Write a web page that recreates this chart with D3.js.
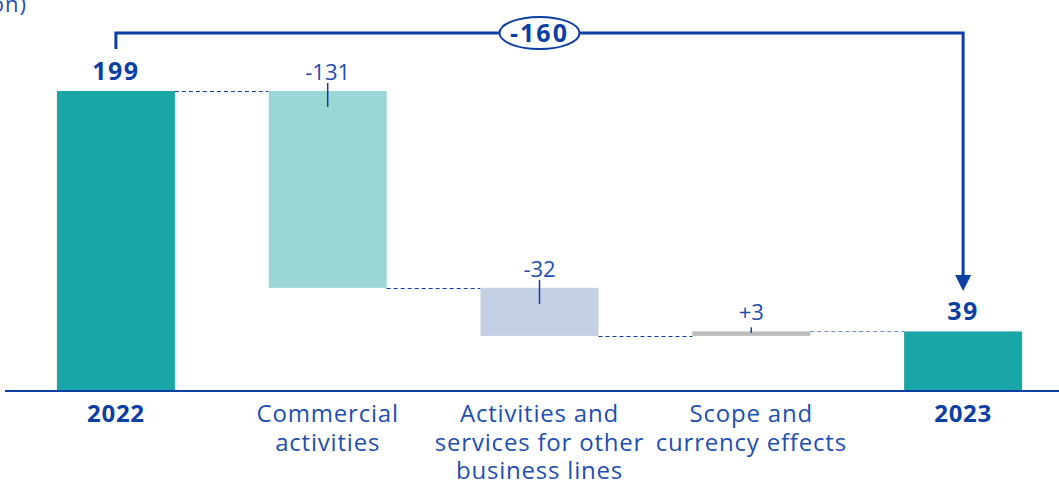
<!DOCTYPE html>
<html>
<head>
<meta charset="utf-8">
<script src="https://cdn.jsdelivr.net/npm/d3@7/dist/d3.min.js"></script>
<style>
  html, body { margin: 0; padding: 0; background: #fff; }
  svg { display: block; font-family: "Open Sans", "Noto Sans", sans-serif; }
</style>
</head>
<body>
<svg id="chart" width="1059" height="482"></svg>
<script>
// categories, deltas and labels
const categories = ["2022", "Commercial", "Activities", "Scope", "2023"];
const labelLines = [
  ["2022"],
  ["Commercial", "activities"],
  ["Activities and", "services for other", "business lines"],
  ["Scope and", "currency effects"],
  ["2023"],
];
const kinds = ["total", "delta", "delta", "delta", "total"];
const values = [199, -131, -32, 3, 39];
const valueLabels = ["199", "-131", "-32", "+3", "39"];
const totalChange = "-160";
const unitLabel = "(€ million)";

const colors = ["#1aa6a6", "#9ad6d4", "#c3cfe2", "#bcbcbc", "#1aa6a6"];
const BLUE = "#0b3fa3";
const TEXT = "#1d4fb2";

const W = 1059, H = 482;
const svg = d3.select("#chart");

const x = d3.scaleBand()
  .domain(categories)
  .range([10, 1069])
  .paddingInner(0.443)
  .paddingOuter(0.2215);

const y = d3.scaleLinear().domain([0, 199]).range([390, 91]);

// running start/end for each step
let run = 0;
const steps = categories.map((c, i) => {
  let a, b;
  if (kinds[i] === "total") { a = 0; b = values[i]; run = values[i]; }
  else { a = run; b = run + values[i]; run = b; }
  return { c, i, a, b, lo: Math.min(a, b), hi: Math.max(a, b) };
});

// unit label, clipped at the left edge like the source
svg.append("text")
  .attr("x", 27).attr("y", 12)
  .attr("text-anchor", "end")
  .attr("fill", TEXT)
  .attr("font-size", 22)
  .attr("letter-spacing", 1)
  .text(unitLabel);

// dashed connectors between bars
steps.slice(0, -1).forEach((s, i) => {
  const next = steps[i + 1];
  const level = s.b;
  svg.append("line")
    .attr("x1", x(s.c) + x.bandwidth())
    .attr("x2", x(next.c))
    .attr("y1", Math.round(y(level)) + 0.5).attr("y2", Math.round(y(level)) + 0.5)
    .attr("stroke", i === 3 ? "#6f8fc9" : BLUE)
    .attr("stroke-width", 1)
    .attr("stroke-dasharray", "4,3");
});

// bars
svg.selectAll("rect.bar")
  .data(steps)
  .join("rect")
  .attr("class", "bar")
  .attr("x", d => x(d.c))
  .attr("width", x.bandwidth())
  .attr("y", d => y(d.hi))
  .attr("height", d => y(d.lo) - y(d.hi))
  .attr("fill", (d, i) => colors[i]);

// axis line
svg.append("line")
  .attr("x1", 5).attr("x2", W)
  .attr("y1", 391).attr("y2", 391)
  .attr("stroke", BLUE)
  .attr("stroke-width", 2);

// value labels
steps.forEach((s, i) => {
  const cx = x(s.c) + x.bandwidth() / 2;
  const top = y(s.hi);
  const total = kinds[i] === "total";
  svg.append("text")
    .attr("x", cx)
    .attr("y", top - 11)
    .attr("text-anchor", "middle")
    .attr("fill", total ? BLUE : TEXT)
    .attr("font-size", total ? 25 : 22)
    .attr("font-weight", total ? 700 : 400)
    .attr("letter-spacing", total ? 1.5 : 0)
    .text(valueLabels[i]);
  if (!total) {
    const h = y(s.lo) - top;
    svg.append("line")
      .attr("x1", cx).attr("x2", cx)
      .attr("y1", top - (h < 10 ? 4 : 8))
      .attr("y2", top + Math.min(16, h - 3))
      .attr("stroke", BLUE)
      .attr("stroke-width", 1.5);
  }
});

// category labels
labelLines.forEach((lines, i) => {
  const cx = x(categories[i]) + x.bandwidth() / 2;
  const bold = kinds[i] === "total";
  const t = svg.append("text")
    .attr("text-anchor", "middle")
    .attr("fill", bold ? BLUE : TEXT)
    .attr("font-size", 24)
    .attr("font-weight", bold ? 700 : 400)
    .attr("letter-spacing", bold ? 0.7 : 0.8);
  lines.forEach((ln, k) => {
    t.append("tspan").attr("x", cx).attr("y", 422 + k * 28.5).text(ln);
  });
});

// overall change bracket
const x0 = x(categories[0]) + x.bandwidth() / 2;
const x1 = x(categories[4]) + x.bandwidth() / 2;
const yTop = 33;
svg.append("path")
  .attr("d", `M${x0},49 V${yTop} H${x1} V276`)
  .attr("fill", "none")
  .attr("stroke", BLUE)
  .attr("stroke-width", 3);
svg.append("path")
  .attr("d", `M${x1 - 8},275 L${x1 + 8},275 L${x1},291 Z`)
  .attr("fill", BLUE);

const mid = (x(categories[2]) + x.bandwidth() / 2);
svg.append("ellipse")
  .attr("cx", mid).attr("cy", yTop)
  .attr("rx", 40).attr("ry", 16)
  .attr("fill", "#fff")
  .attr("stroke", BLUE)
  .attr("stroke-width", 2);
svg.append("text")
  .attr("x", mid).attr("y", yTop + 9)
  .attr("text-anchor", "middle")
  .attr("fill", BLUE)
  .attr("font-size", 25)
  .attr("font-weight", 700)
  .attr("letter-spacing", 2)
  .text(totalChange);
</script>
</body>
</html>
